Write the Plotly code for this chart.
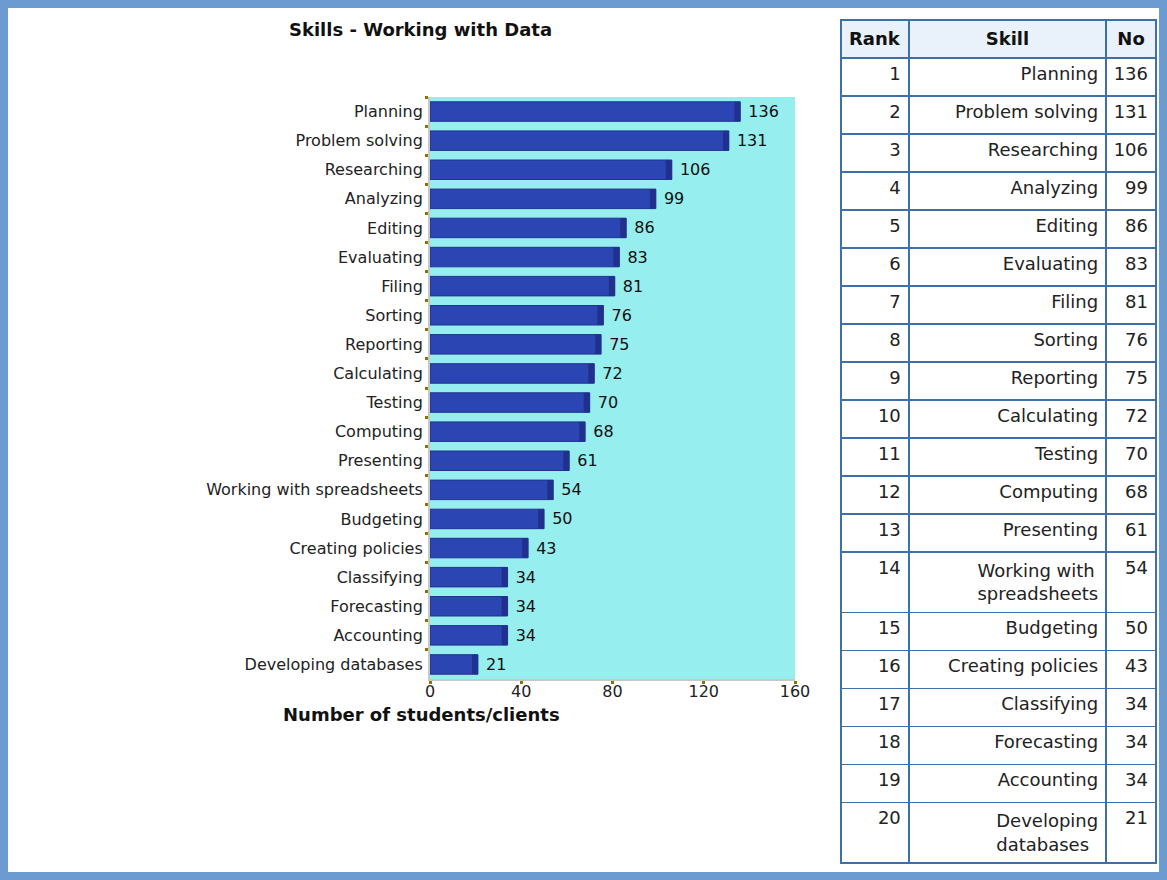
import plotly.graph_objects as go

# ---- data ----
skills = ["Planning", "Problem solving", "Researching", "Analyzing", "Editing",
          "Evaluating", "Filing", "Sorting", "Reporting", "Calculating",
          "Testing", "Computing", "Presenting", "Working with spreadsheets",
          "Budgeting", "Creating policies", "Classifying", "Forecasting",
          "Accounting", "Developing databases"]
counts = [136, 131, 106, 99, 86, 83, 81, 76, 75, 72, 70, 68, 61, 54, 50, 43,
          34, 34, 34, 21]
ranks = list(range(1, 21))
table_skills = ["Planning", "Problem solving", "Researching", "Analyzing", "Editing",
                "Evaluating", "Filing", "Sorting", "Reporting", "Calculating",
                "Testing", "Computing", "Presenting", "Working with<br>spreadsheets",
                "Budgeting", "Creating policies", "Classifying", "Forecasting",
                "Accounting", "Developing<br>databases"]
x_ticks = [0, 40, 80, 120, 160]
table_header = ["<b>Rank</b>", "<b>Skill</b>", "<b>No</b>"]

W, H = 1167, 880
FONT = "DejaVu Sans, Verdana, sans-serif"


def fx(p):
    return p / W


def fy(p):
    return 1 - p / H


SHADE = 2.6  # width (in data units) of the darker bar end

fig = go.Figure()
fig.add_trace(go.Bar(
    x=counts, y=skills, orientation="h",
    marker=dict(color="#2b45b3", line=dict(color="#20338f", width=1)),
    text=counts, texttemplate=" %{text}", textposition="outside", cliponaxis=False,
    textfont=dict(size=16, color="#111111", family=FONT),
    hoverinfo="x+y", showlegend=False,
))
fig.add_trace(go.Bar(
    x=[SHADE] * len(counts), y=skills, base=[c - SHADE for c in counts],
    orientation="h", marker=dict(color="#1f318c", line=dict(width=0)),
    hoverinfo="skip", showlegend=False,
))

fig.add_trace(go.Table(
    domain=dict(x=[fx(841), fx(1157)], y=[0, fy(20)]),
    columnwidth=[68, 198, 50],
    header=dict(values=table_header, fill_color="#e9f1fb",
                line=dict(color="#3d6fa8", width=1.5), align="center",
                height=38, font=dict(size=18, color="#111111", family=FONT)),
    cells=dict(values=[ranks, table_skills, counts], fill_color="white",
               line=dict(color="#3d6fa8", width=1.5), align="right",
               height=38, font=dict(size=18, color="#222222", family=FONT)),
))

fig.update_layout(
    width=W, height=H, autosize=False,
    margin=dict(l=0, r=0, t=0, b=0, pad=0, autoexpand=False),
    paper_bgcolor="white", plot_bgcolor="#96eeee",
    barmode="overlay", bargap=0.33,
    font=dict(family=FONT, size=16, color="#222222"),
    xaxis=dict(domain=[fx(430), fx(795)], range=[0, 160], tickvals=x_ticks,
               ticks="outside", ticklen=3, tickwidth=3, tickcolor="#8b7500",
               showline=True, linecolor="#c8c8c8", linewidth=2,
               showgrid=False, zeroline=False, fixedrange=True,
               ticklabelstandoff=-6, automargin=False,
               tickfont=dict(size=16, color="#222222")),
    yaxis=dict(domain=[fy(679), fy(97)], autorange="reversed",
               tickson="boundaries", ticks="outside", ticklen=3, tickwidth=3,
               tickcolor="#8b7500", showline=True, linecolor="#c8c8c8",
               linewidth=2, showgrid=False, ticklabelstandoff=2,
               automargin=False, fixedrange=True,
               tickfont=dict(size=16, color="#222222")),
    annotations=[
        dict(text="<b>Skills - Working with Data</b>", x=fx(420), y=fy(30),
             xref="paper", yref="paper", showarrow=False, yanchor="middle",
             font=dict(size=18, color="#111111")),
        dict(text="<b>Number of students/clients</b>", x=fx(421), y=fy(714),
             xref="paper", yref="paper", showarrow=False, yanchor="middle",
             font=dict(size=18, color="#111111")),
    ],
    shapes=[
        dict(type="rect", xref="paper", yref="paper",
             x0=fx(4), x1=fx(1163), y0=fy(876), y1=fy(4),
             line=dict(color="#6b9bd1", width=8), layer="above"),
    ],
)

fig.write_html("out.html",
               config={"displayModeBar": False, "responsive": False},
               post_script="document.body.style.margin='0';"
                           "document.body.style.overflow='hidden';")
